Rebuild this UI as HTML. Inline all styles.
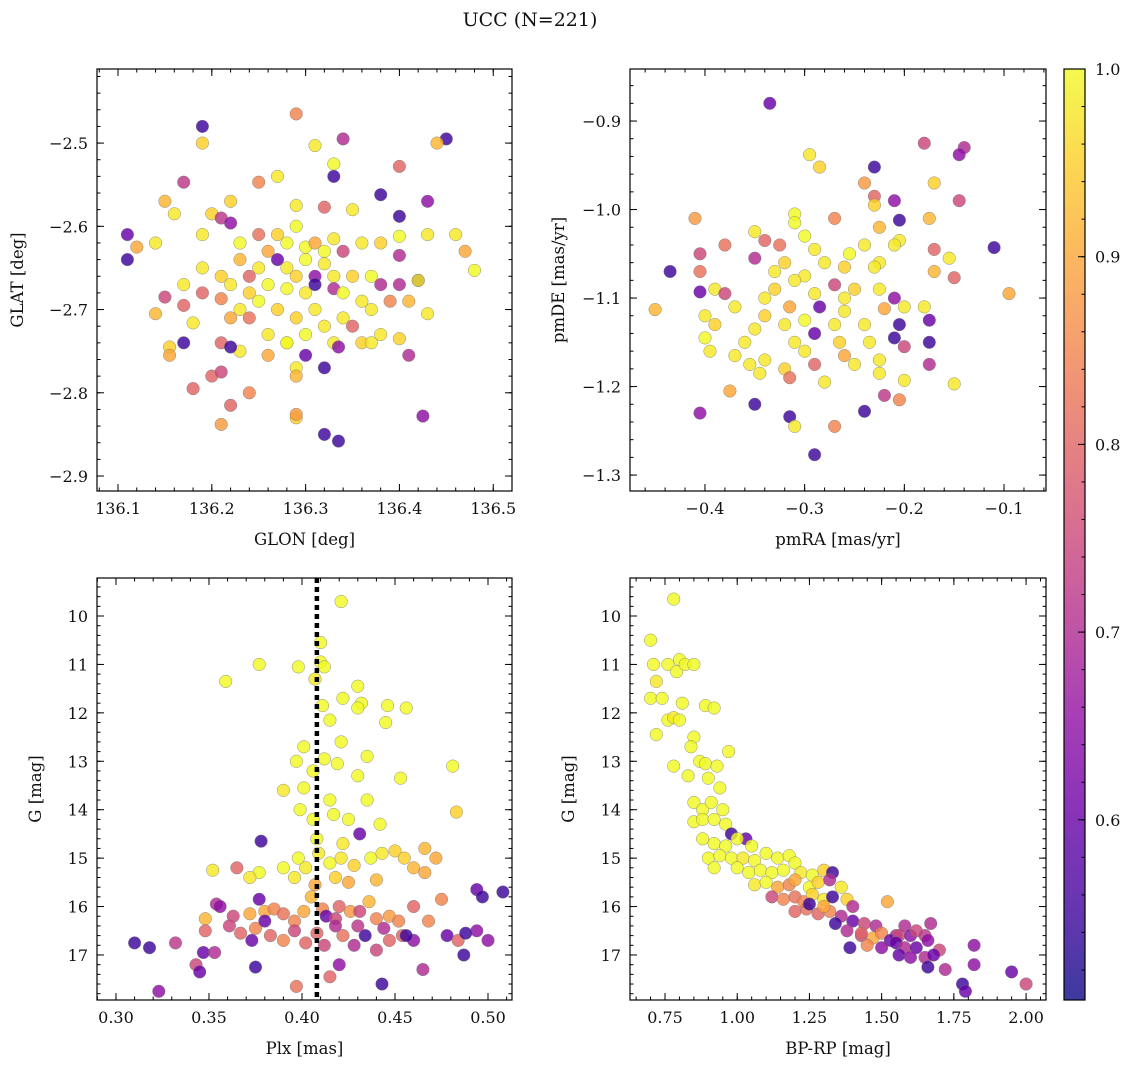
<!DOCTYPE html>
<html><head><meta charset="utf-8">
<style>
html,body{margin:0;padding:0;background:#fff;}
svg{display:block;font-family:"DejaVu Serif","Liberation Serif",serif;}
</style></head>
<body>
<svg id="chart" width="1136" height="1068" viewBox="0 0 1136 1068" xmlns="http://www.w3.org/2000/svg">
<text x="530" y="26" text-anchor="middle" font-size="19" fill="#111">UCC (N=221)</text>
</svg>
<script>
// ---------- data (per panel) ----------
const glon=[136.19,136.29,136.34,136.45,136.44,136.19,136.31,136.33,136.40,136.33,136.17,136.27,136.38,136.43,136.15,136.22,136.25,136.32,136.35,136.16,136.20,136.29,136.40,136.21,136.22,136.11,136.11,136.12,136.14,136.19,136.23,136.25,136.26,136.27,136.28,136.29,136.30,136.31,136.32,136.33,136.34,136.36,136.38,136.40,136.43,136.46,136.47,136.48,136.42,136.40,136.19,136.21,136.23,136.24,136.25,136.27,136.28,136.29,136.30,136.31,136.32,136.33,136.35,136.37,136.38,136.40,136.42,136.17,136.19,136.22,136.24,136.26,136.28,136.30,136.31,136.33,136.34,136.36,136.39,136.41,136.15,136.17,136.14,136.21,136.23,136.25,136.27,136.29,136.31,136.32,136.34,136.35,136.37,136.18,136.22,136.24,136.26,136.28,136.30,136.33,136.36,136.38,136.40,136.43,136.155,136.155,136.17,136.21,136.23,136.26,136.28,136.29,136.30,136.32,136.335,136.37,136.41,136.20,136.21,136.29,136.18,136.22,136.24,136.29,136.29,136.21,136.32,136.335,136.425,136.22];
const glat=[-2.48,-2.465,-2.495,-2.495,-2.50,-2.50,-2.503,-2.525,-2.528,-2.54,-2.547,-2.54,-2.562,-2.57,-2.57,-2.57,-2.547,-2.577,-2.58,-2.585,-2.585,-2.575,-2.588,-2.59,-2.596,-2.61,-2.64,-2.625,-2.62,-2.61,-2.62,-2.61,-2.63,-2.61,-2.62,-2.60,-2.625,-2.62,-2.63,-2.615,-2.63,-2.62,-2.62,-2.612,-2.61,-2.61,-2.63,-2.653,-2.665,-2.635,-2.65,-2.66,-2.64,-2.66,-2.65,-2.64,-2.65,-2.66,-2.64,-2.66,-2.645,-2.66,-2.66,-2.66,-2.67,-2.67,-2.665,-2.67,-2.68,-2.67,-2.68,-2.67,-2.675,-2.68,-2.67,-2.675,-2.68,-2.69,-2.69,-2.69,-2.685,-2.695,-2.705,-2.687,-2.70,-2.69,-2.70,-2.71,-2.70,-2.72,-2.71,-2.72,-2.70,-2.716,-2.71,-2.71,-2.73,-2.74,-2.73,-2.74,-2.74,-2.73,-2.735,-2.705,-2.745,-2.755,-2.74,-2.74,-2.75,-2.755,-2.74,-2.77,-2.755,-2.77,-2.745,-2.74,-2.755,-2.78,-2.775,-2.78,-2.795,-2.815,-2.80,-2.83,-2.826,-2.838,-2.85,-2.858,-2.828,-2.745];
const prob1=[0.55,0.85,0.7,0.55,0.92,0.95,0.98,1,0.8,0.55,0.72,0.98,0.55,0.65,0.92,0.95,0.85,0.8,0.98,0.98,0.95,0.98,0.55,0.72,0.65,0.6,0.55,0.9,0.98,0.98,1,0.82,0.9,0.95,1,1,1,0.9,1,0.98,0.75,0.98,0.95,1,0.98,0.98,0.9,1,0.55,0.7,0.98,0.95,0.92,0.8,0.98,0.6,0.98,0.95,1,0.65,0.98,0.98,0.95,1,0.7,0.7,0.98,0.98,0.8,0.98,0.95,1,1,0.98,0.55,0.7,1,0.98,0.85,0.92,0.75,0.8,0.92,0.85,0.98,1,0.95,0.95,0.98,0.98,0.98,0.8,0.98,0.98,0.9,0.82,0.98,0.98,1,0.98,0.95,0.98,0.95,0.98,0.95,0.9,0.55,0.8,0.98,0.9,1,0.98,0.6,0.55,0.65,0.98,0.7,0.8,0.75,0.92,0.8,0.8,0.85,0.95,0.88,0.88,0.55,0.55,0.65,0.55];

const pmra=[-0.335,-0.18,-0.14,-0.145,-0.295,-0.23,-0.285,-0.24,-0.17,-0.23,-0.145,-0.21,-0.23,-0.31,-0.41,-0.175,-0.205,-0.27,-0.31,-0.35,-0.225,-0.325,-0.34,-0.30,-0.205,-0.24,-0.11,-0.17,-0.38,-0.29,-0.405,-0.35,-0.255,-0.225,-0.21,-0.155,-0.32,-0.28,-0.26,-0.33,-0.435,-0.405,-0.3,-0.23,-0.17,-0.15,-0.31,-0.27,-0.25,-0.33,-0.39,-0.405,-0.38,-0.34,-0.29,-0.26,-0.21,-0.095,-0.225,-0.45,-0.4,-0.37,-0.34,-0.315,-0.285,-0.26,-0.2,-0.22,-0.18,-0.39,-0.35,-0.32,-0.3,-0.27,-0.24,-0.205,-0.175,-0.4,-0.36,-0.31,-0.29,-0.265,-0.235,-0.21,-0.175,-0.2,-0.395,-0.37,-0.34,-0.3,-0.26,-0.225,-0.175,-0.355,-0.32,-0.29,-0.25,-0.225,-0.345,-0.315,-0.28,-0.2,-0.15,-0.375,-0.35,-0.24,-0.405,-0.315,-0.31,-0.27,-0.29,-0.22,-0.205];
const pmde=[-0.88,-0.925,-0.93,-0.938,-0.938,-0.952,-0.952,-0.97,-0.97,-0.985,-0.99,-0.99,-0.995,-1.005,-1.01,-1.01,-1.012,-1.01,-1.015,-1.025,-1.02,-1.04,-1.035,-1.03,-1.035,-1.04,-1.043,-1.045,-1.04,-1.045,-1.05,-1.055,-1.05,-1.06,-1.04,-1.055,-1.06,-1.06,-1.065,-1.07,-1.07,-1.07,-1.075,-1.065,-1.07,-1.077,-1.08,-1.085,-1.09,-1.09,-1.09,-1.093,-1.095,-1.1,-1.095,-1.1,-1.1,-1.095,-1.09,-1.113,-1.12,-1.11,-1.12,-1.11,-1.11,-1.115,-1.11,-1.112,-1.11,-1.13,-1.135,-1.13,-1.125,-1.13,-1.13,-1.13,-1.125,-1.145,-1.15,-1.15,-1.14,-1.15,-1.15,-1.145,-1.15,-1.155,-1.16,-1.165,-1.17,-1.16,-1.165,-1.17,-1.175,-1.175,-1.18,-1.175,-1.175,-1.185,-1.185,-1.19,-1.195,-1.193,-1.197,-1.205,-1.22,-1.228,-1.23,-1.234,-1.245,-1.245,-1.277,-1.21,-1.215];
const prob2=[0.6,0.75,0.7,0.65,0.98,0.55,0.95,0.88,0.95,0.8,0.75,0.65,0.95,1,0.88,0.92,0.55,0.85,1,0.98,0.92,0.82,0.8,1,0.98,0.98,0.55,0.8,0.82,0.98,0.75,0.7,1,0.98,0.98,0.98,0.95,0.98,0.95,0.98,0.55,0.82,0.98,0.98,0.92,0.8,0.98,0.75,0.95,0.95,0.98,0.6,0.75,0.98,0.98,0.98,0.65,0.9,0.98,0.92,0.98,0.98,0.95,0.9,0.6,0.98,0.98,0.9,0.98,0.95,0.98,0.98,1,0.98,0.98,0.55,0.6,1,0.98,0.98,0.6,0.95,0.98,0.55,0.55,0.75,0.98,0.98,0.98,0.98,0.9,0.98,0.7,0.98,0.95,0.8,0.98,0.98,0.98,0.82,0.98,0.98,0.98,0.9,0.55,0.55,0.65,0.55,0.98,0.85,0.55,0.72,0.85];

const plx=[0.421,0.410,0.410,0.412,0.398,0.377,0.359,0.407,0.430,0.432,0.430,0.422,0.411,0.446,0.456,0.445,0.415,0.421,0.401,0.412,0.435,0.419,0.397,0.406,0.430,0.453,0.481,0.390,0.401,0.415,0.435,0.399,0.406,0.417,0.425,0.442,0.483,0.378,0.431,0.408,0.422,0.352,0.377,0.372,0.390,0.398,0.402,0.409,0.415,0.421,0.428,0.437,0.443,0.450,0.455,0.466,0.472,0.396,0.407,0.418,0.425,0.440,0.460,0.466,0.365,0.377,0.354,0.356,0.363,0.372,0.380,0.385,0.390,0.396,0.401,0.405,0.411,0.413,0.418,0.420,0.426,0.431,0.436,0.440,0.447,0.452,0.460,0.468,0.475,0.348,0.348,0.361,0.367,0.375,0.383,0.390,0.396,0.402,0.408,0.412,0.422,0.428,0.434,0.440,0.447,0.454,0.460,0.465,0.478,0.484,0.487,0.494,0.500,0.494,0.497,0.508,0.310,0.318,0.332,0.323,0.343,0.345,0.347,0.353,0.373,0.375,0.397,0.443,0.415,0.420,0.418,0.430,0.444,0.488,0.380,0.456];
const gmag3=[9.7,10.55,10.95,11.05,11.05,11.0,11.35,11.3,11.45,11.8,11.9,11.7,11.85,11.85,11.9,12.2,12.15,12.6,12.7,12.95,12.9,13.05,13.0,13.2,13.3,13.35,13.1,13.6,13.55,13.8,13.8,14.0,14.2,14.1,14.2,14.3,14.05,14.65,14.5,14.6,14.7,15.25,15.3,15.4,15.2,15.0,15.2,14.9,15.1,15.0,15.15,15.0,14.9,14.85,15.0,14.8,15.0,15.4,15.55,15.4,15.5,15.45,15.2,15.3,15.2,15.85,15.95,16.0,16.2,16.15,16.1,16.05,16.15,16.3,16.1,15.8,16.05,16.2,16.25,16.0,16.1,16.1,15.9,16.25,16.2,16.3,16.0,16.3,15.85,16.25,16.5,16.4,16.55,16.45,16.6,16.7,16.5,16.75,16.55,16.8,16.6,16.8,16.6,16.9,16.7,16.6,16.7,17.3,16.6,16.7,17.0,16.5,16.7,15.65,15.8,15.7,16.75,16.85,16.75,17.75,17.2,17.35,16.95,16.95,16.7,17.25,17.65,17.6,17.45,17.2,16.4,16.4,16.45,16.55,16.3,16.6];
const prob3=[1,1,1,1,1,1,1,0.98,1,1,1,1,1,1,1,1,1,1,1,1,1,1,1,1,1,1,1,0.98,1,1,1,1,1,1,1,1,0.95,0.55,0.6,1,0.98,0.98,1,0.98,1,1,0.98,0.98,1,0.98,0.95,1,0.98,0.95,0.95,0.92,0.9,0.98,0.9,0.95,0.9,0.92,0.92,0.9,0.8,0.6,0.7,0.65,0.75,0.9,0.9,0.85,0.82,0.85,0.9,0.92,0.85,0.6,0.75,0.8,0.88,0.75,0.92,0.85,0.88,0.85,0.8,0.85,0.85,0.92,0.8,0.75,0.8,0.85,0.8,0.85,0.75,0.8,0.8,0.75,0.82,0.7,0.55,0.75,0.8,0.8,0.65,0.7,0.6,0.8,0.55,0.65,0.65,0.6,0.55,0.55,0.55,0.55,0.72,0.65,0.75,0.6,0.6,0.7,0.6,0.55,0.82,0.55,0.8,0.65,0.7,0.72,0.7,0.55,0.6,0.55];
const plxLine=0.408;

const bprp=[0.78,0.70,0.71,0.72,0.76,0.79,0.80,0.82,0.85,0.70,0.74,0.76,0.78,0.80,0.72,0.81,0.89,0.92,0.85,0.84,0.97,0.87,0.89,0.93,0.78,0.83,0.90,0.94,0.85,0.88,0.91,0.95,0.85,0.88,0.92,0.96,0.98,1.03,0.88,0.92,0.96,1.00,1.05,0.90,0.94,0.98,1.02,1.06,1.10,1.14,1.18,1.20,0.92,1.00,1.04,1.08,1.12,1.16,1.22,1.26,1.30,1.33,1.06,1.10,1.14,1.18,1.20,1.25,1.28,1.32,1.36,1.12,1.16,1.20,1.23,1.26,1.30,1.33,1.38,1.40,1.20,1.24,1.28,1.32,1.36,1.40,1.44,1.25,1.30,1.34,1.38,1.43,1.48,1.52,1.55,1.47,1.50,1.53,1.56,1.58,1.60,1.62,1.65,1.67,1.45,1.50,1.55,1.58,1.62,1.66,1.70,1.56,1.60,1.65,1.68,1.66,1.72,1.78,1.79,1.82,1.82,1.95,2.00,1.39,1.43];
const gmag4=[9.65,10.5,11.0,11.35,11.0,11.15,10.9,11.0,11.0,11.7,11.7,12.15,12.1,12.15,12.45,11.8,11.85,11.9,12.5,12.7,12.8,13.0,13.05,13.1,13.1,13.3,13.35,13.55,13.85,14.0,13.85,14.0,14.25,14.2,14.2,14.3,14.5,14.6,14.6,14.7,14.75,14.6,14.75,15.0,14.95,15.0,15.0,15.05,14.9,15.0,14.95,15.1,15.2,15.2,15.3,15.25,15.3,15.25,15.3,15.35,15.25,15.3,15.55,15.5,15.6,15.55,15.45,15.6,15.5,15.45,15.6,15.8,15.85,15.8,15.9,15.75,15.85,15.8,15.85,16.0,16.1,16.05,16.15,16.1,16.2,16.3,16.35,15.95,16.0,16.35,16.5,16.6,16.4,15.9,16.6,16.65,16.55,16.7,16.6,16.4,16.6,16.5,16.6,16.35,16.8,16.85,16.75,16.85,16.85,16.7,16.9,17.0,17.05,17.05,17.0,17.25,17.3,17.6,17.75,17.2,16.8,17.35,17.6,16.85,16.55];
const prob4=[1,1,1,0.98,1,1,1,1,1,1,1,1,0.98,1,1,1,1,1,1,1,1,1,1,1,1,1,1,1,1,1,1,1,1,1,1,1,0.55,0.6,1,1,1,1,1,1,1,1,0.98,1,1,1,1,1,1,1,1,1,1,1,0.98,1,0.95,0.55,0.98,1,0.9,0.85,0.9,1,0.95,0.7,0.98,0.75,0.85,0.82,0.85,0.95,0.98,0.55,0.95,0.7,0.8,0.82,0.8,0.85,0.7,0.6,0.75,0.55,0.9,0.55,0.7,0.75,0.7,0.9,0.7,0.9,0.85,0.6,0.75,0.7,0.65,0.75,0.72,0.7,0.85,0.65,0.6,0.7,0.6,0.65,0.75,0.6,0.65,0.7,0.6,0.55,0.7,0.55,0.6,0.65,0.65,0.6,0.75,0.55,0.8];

const cTicks=[0.6,0.7,0.8,0.9,1.0];
// ---------- helpers ----------
const svg=document.getElementById('chart');
const NS='http://www.w3.org/2000/svg';
function mk(tag,attrs,parent){const e=document.createElementNS(NS,tag);for(const k in attrs)e.setAttribute(k,attrs[k]);(parent||svg).appendChild(e);return e;}
const plasma=[[13,8,135],[65,4,157],[106,0,168],[143,13,164],[177,42,144],[204,71,120],[225,100,98],[242,132,75],[252,166,54],[252,206,37],[240,249,33]];
const CMIN=0.504,CMAX=1.0;
function cmap(v){let t=(v-CMIN)/(CMAX-CMIN);t=Math.max(0,Math.min(1,t))*10;const i=Math.min(9,Math.floor(t)),f=t-i;const a=plasma[i],b=plasma[i+1];return 'rgb('+a.map((c,k)=>Math.round(c+(b[k]-c)*f)).join(',')+')';}

function panel(o){
  const g=mk('g',{});
  
  
  const sx=v=>o.x0+(v-o.xmin)/(o.xmax-o.xmin)*(o.x1-o.x0);
  const sy=o.yinv? v=>o.y0+(v-o.ymin)/(o.ymax-o.ymin)*(o.y1-o.y0) : v=>o.y1-(v-o.ymin)/(o.ymax-o.ymin)*(o.y1-o.y0);
  const pg=mk('g',{},g);
  
  
  for(let i=0;i<o.xs.length;i++){
    const c=mk('circle',{cx:sx(o.xs[i]).toFixed(1),cy:sy(o.ys[i]).toFixed(1),r:6.3,fill:cmap(o.ps[i]),'fill-opacity':0.82,stroke:'#777','stroke-width':0.5,'stroke-opacity':0.8},pg);
    
    
  }
  if(o.vline!==undefined){
    const l=mk('line',{x1:sx(o.vline),x2:sx(o.vline),y1:o.y0,y2:o.y1,stroke:'#000','stroke-width':4.5,'stroke-dasharray':'5,4'},g);
    
    
  }
  const fr=mk('rect',{x:o.x0,y:o.y0,width:o.x1-o.x0,height:o.y1-o.y0,fill:'none',stroke:'#000','stroke-width':1.2},g);
  
  
  const eps=1e-9;
  function ticksX(step,len){for(let v=Math.ceil(o.xmin/step-eps)*step;v<=o.xmax+eps;v+=step){const x=sx(v);mk('line',{x1:x,x2:x,y1:o.y1,y2:o.y1-len,stroke:'#000','stroke-width':1},g);mk('line',{x1:x,x2:x,y1:o.y0,y2:o.y0+len,stroke:'#000','stroke-width':1},g);}}
  function ticksY(step,len){const lo=Math.min(o.ymin,o.ymax),hi=Math.max(o.ymin,o.ymax);for(let v=Math.ceil(lo/step-eps)*step;v<=hi+eps;v+=step){const y=sy(v);mk('line',{x1:o.x0,x2:o.x0+len,y1:y,y2:y,stroke:'#000','stroke-width':1},g);mk('line',{x1:o.x1,x2:o.x1-len,y1:y,y2:y,stroke:'#000','stroke-width':1},g);}}
  ticksX(o.xminor,3.5);ticksX(o.xmajor,7);ticksY(o.yminor,3.5);ticksY(o.ymajor,7);
  o.xticks.forEach(v=>{const t=mk('text',{x:sx(v),y:o.y1+23,'text-anchor':'middle','font-size':16,fill:'#111'},g);t.textContent=v.toFixed(o.xdec).replace('-','\u2212');});
  o.yticks.forEach(v=>{const t=mk('text',{x:o.x0-9,y:sy(v)+6,'text-anchor':'end','font-size':16,fill:'#111'},g);t.textContent=v.toFixed(o.ydec).replace('-','\u2212');});
  const xl=mk('text',{x:(o.x0+o.x1)/2,y:o.y1+54,'text-anchor':'middle','font-size':16.5,fill:'#111'},g);xl.textContent=o.xlabel;
  
  
  const yx=o.x0-o.ylabOff,yy=(o.y0+o.y1)/2;
  const yl=mk('text',{x:yx,y:yy,'text-anchor':'middle','font-size':16.5,fill:'#111',transform:'rotate(-90 '+yx+' '+yy+')'},g);yl.textContent=o.ylabel;
  
  
}

panel({name:'glon-glat-panel',x0:97,x1:512,y0:69,y1:491,xmin:136.0776,xmax:136.52,ymin:-2.918,ymax:-2.411,xs:glon,ys:glat,ps:prob1,xmajor:0.1,xminor:0.02,ymajor:0.1,yminor:0.02,xticks:[136.1,136.2,136.3,136.4,136.5],yticks:[-2.9,-2.8,-2.7,-2.6,-2.5],xdec:1,ydec:1,xlabel:'GLON [deg]',ylabel:'GLAT [deg]',ylabOff:74});
panel({name:'pm-panel',x0:630,x1:1046,y0:69,y1:491,xmin:-0.4752,xmax:-0.0579,ymin:-1.318,ymax:-0.8412,xs:pmra,ys:pmde,ps:prob2,xmajor:0.1,xminor:0.02,ymajor:0.1,yminor:0.02,xticks:[-0.4,-0.3,-0.2,-0.1],yticks:[-1.3,-1.2,-1.1,-1.0,-0.9],xdec:1,ydec:1,xlabel:'pmRA [mas/yr]',ylabel:'pmDE [mas/yr]',ylabOff:66});
panel({name:'plx-g-panel',x0:97,x1:512,y0:578,y1:1000,xmin:0.2898,xmax:0.5129,ymin:9.215,ymax:17.93,yinv:true,xs:plx,ys:gmag3,ps:prob3,xmajor:0.05,xminor:0.01,ymajor:1,yminor:0.2,xticks:[0.30,0.35,0.40,0.45,0.50],yticks:[10,11,12,13,14,15,16,17],xdec:2,ydec:0,xlabel:'Plx [mas]',ylabel:'G [mag]',ylabOff:56,vline:plxLine});
panel({name:'cmd-panel',x0:630,x1:1046,y0:578,y1:1000,xmin:0.6288,xmax:2.069,ymin:9.215,ymax:17.93,yinv:true,xs:bprp,ys:gmag4,ps:prob4,xmajor:0.25,xminor:0.05,ymajor:1,yminor:0.2,xticks:[0.75,1.00,1.25,1.50,1.75,2.00],yticks:[10,11,12,13,14,15,16,17],xdec:2,ydec:0,xlabel:'BP-RP [mag]',ylabel:'G [mag]',ylabOff:56});

// colorbar
const cb=mk('g',{});


const defs=mk('defs',{});
const lg=mk('linearGradient',{id:'pl',x1:0,y1:1,x2:0,y2:0},defs);
plasma.forEach((c,i)=>mk('stop',{offset:(i/10),'stop-color':'rgb('+c.join(',')+')','stop-opacity':0.8},lg));
const CB={x:1064,w:21,y0:69,y1:1000};
const cy=v=>CB.y1-(v-CMIN)/(CMAX-CMIN)*(CB.y1-CB.y0);
mk('rect',{x:CB.x,y:CB.y0,width:CB.w,height:CB.y1-CB.y0,fill:'url(#pl)',stroke:'#000','stroke-width':1.2},cb);
for(let v=0.52;v<=1.0001;v+=0.02){mk('line',{x1:CB.x+CB.w,x2:CB.x+CB.w-3.5,y1:cy(v),y2:cy(v),stroke:'#000'},cb);}
cTicks.forEach(v=>{mk('line',{x1:CB.x+CB.w,x2:CB.x+CB.w-7,y1:cy(v),y2:cy(v),stroke:'#000'},cb);const t=mk('text',{x:CB.x+CB.w+10,y:cy(v)+6,'font-size':16,fill:'#111'},cb);t.textContent=v.toFixed(1);});
</script>
</body></html>
